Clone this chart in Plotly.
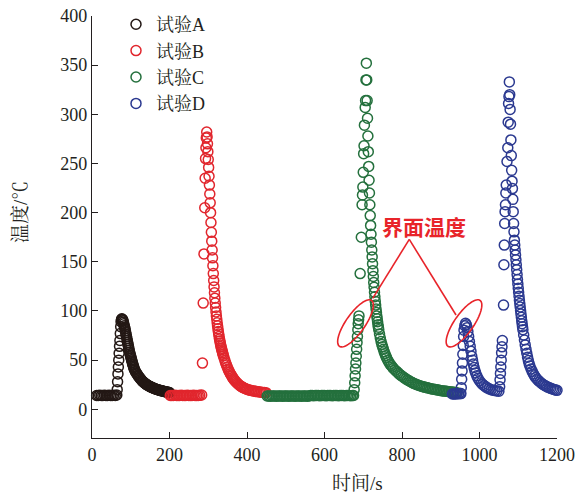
import math
import plotly.graph_objects as go

# ---------------- data ----------------
time_A = [12, 16, 20, 24, 28, 32, 36, 40, 44, 48, 52, 56, 60,
          64, 65, 66, 67, 68, 69, 70, 71, 72, 73, 74, 75, 76, 77,
          78, 79, 80, 81, 82, 83, 84, 85, 86, 87, 88, 89, 90, 91, 92, 93, 94, 95, 96, 97, 98, 99,
          100, 101, 102, 103, 104, 105, 106, 107, 108, 109, 110,
          112, 114, 116, 118, 120, 122, 124, 126, 128, 130, 132, 134, 136, 138, 140, 142, 144, 146,
          148, 150, 152, 154, 156, 158, 160, 162, 164, 166, 168, 170, 172, 174, 176, 178, 180, 182,
          184, 186, 188, 190, 192, 194, 196, 198, 200]
temp_A = [14, 14, 14.2, 14, 14, 14.2, 14, 14, 14.2, 14, 14, 14.2, 14,
          14.5, 20, 28, 36, 43, 50, 57, 64, 70, 77, 84, 89, 91, 92,
          91.5, 91, 90, 88.5, 87, 85, 83.5, 82, 80, 78, 76, 74, 72, 70, 68, 66, 64, 62, 60, 58, 56.5, 55,
          53.5, 52, 50.5, 49, 47.5, 46, 45, 43.5, 42.5, 41, 40,
          38.5, 37, 36, 34.5, 33.5, 32.5, 31.5, 30.5, 29.5, 28.5, 28, 27.3, 26.6, 26, 25.4, 24.9, 24.4, 23.9,
          23.5, 23.1, 22.7, 22.3, 22, 21.6, 21.3, 21, 20.7, 20.4, 20.1, 19.9, 19.6, 19.4, 19.2, 19, 18.8, 18.6,
          18.4, 18.2, 18, 17.8, 17.6, 17.5, 17.3, 17.1, 17]

time_B = [202, 206, 210, 214, 218, 222, 226, 230, 234, 238, 242, 246, 250, 254, 258, 262, 266, 270, 274, 278,
          283, 285, 287, 289, 291, 292, 293, 294, 295, 296,
          297, 298, 299, 300, 301, 302, 303, 304, 305, 306, 307, 308, 309, 310, 311, 312, 313, 314, 315, 316,
          317, 318, 319, 320, 321, 322, 323, 324, 325, 326, 327, 328, 329, 330, 331, 332, 333, 334, 335, 336,
          337, 338, 339,
          341, 343, 345, 347, 349, 351, 353, 355, 357, 359, 361, 363, 365, 367, 369, 371,
          374, 377, 380, 383, 386, 389, 392, 395, 398, 401,
          405, 409, 413, 417, 421, 425, 429, 433, 437, 441, 445, 449]
temp_B = [14, 14, 14, 14.2, 14, 14, 14, 14.2, 14, 14, 14, 14.2, 14, 14, 14, 14.2, 14, 14, 14, 14.2,
          14.5, 47, 108, 158, 205, 235, 255, 266, 276, 282,
          277, 270, 262, 254, 246, 237, 228, 219, 210, 200, 190, 180, 171, 162, 154, 146, 138, 131, 124.5, 118.5,
          113, 108, 103.5, 99, 95, 91.5, 88, 85, 82, 79, 76.5, 74, 71.5, 69.5, 67.5, 65.5, 63.5, 62, 60.5, 59,
          57.5, 56, 54.5,
          52, 49.5, 47, 45, 43, 41, 39.3, 37.7, 36.2, 34.8, 33.5, 32.2, 31, 30, 29, 28,
          26.8, 25.7, 24.7, 23.8, 23, 22.3, 21.7, 21.1, 20.6, 20.2,
          19.7, 19.3, 18.9, 18.6, 18.3, 18, 17.8, 17.6, 17.4, 17.2, 17, 16.9]

time_C = [452, 456, 460, 464, 468, 472, 476, 480, 484, 488, 492, 496, 500, 504, 508, 512, 516, 520, 524, 528,
          532, 536, 540, 544, 548, 552, 556, 560, 564, 568, 572, 576, 580, 584, 588, 592, 596, 600, 604, 608,
          612, 616, 620, 624, 628, 632, 636, 640, 644, 648, 652, 656, 660, 664, 668, 672,
          675, 676.5, 678, 679, 680, 681, 682, 683, 684, 685, 686, 687, 688, 689, 692, 695,
          697, 698, 699, 700, 701, 702, 703, 705, 706, 707,
          708, 709, 710, 711, 712, 713, 714, 715, 716, 717, 718, 719, 720, 721, 722, 723, 724, 725, 726, 727,
          728, 729, 730, 731, 732, 733, 734, 735, 736, 737, 738, 739, 740,
          742, 744, 746, 748, 750, 752, 754, 756, 758, 760, 763, 766, 769, 772, 775, 778, 782, 786, 790,
          794, 798, 802, 806, 810, 814, 818, 822, 826, 830,
          834, 838, 842, 846, 850, 854, 858, 862, 866, 870, 874, 878, 882, 886, 890, 894, 898, 902, 906, 910,
          914, 918, 922, 926, 930, 934, 938, 942]
temp_C = [13.5, 13.5, 13.3, 13.5, 13.5, 13.5, 13.3, 13.5, 13.5, 13.5, 13.3, 13.5, 13.5, 13.5, 13.3, 13.5,
          13.5, 13.5, 13.3, 13.5, 13.5, 13.5, 13.3, 13.5, 13.5, 13.5, 13.3, 13.5,
          14, 14, 13.8, 14, 14, 14, 13.8, 14, 14, 14, 13.8, 14, 14, 14, 13.8, 14,
          14, 14, 13.8, 14, 14, 14, 13.8, 14, 14, 14, 13.8, 14,
          14, 20, 27, 34, 41, 47, 54, 61, 68, 74, 81, 87, 91, 95, 138, 175,
          208, 218, 226, 241, 260, 268, 289, 307, 314, 335,
          352, 335, 314, 296, 278, 262, 247, 233, 220, 208, 197, 187, 178, 170, 162, 155, 148, 141, 135, 129,
          124, 119, 114.5, 110, 106, 102, 98.5, 95, 92, 89, 86, 83.5, 81,
          76.5, 72.5, 69, 66, 63.5, 61, 58.5, 56.5, 54.5, 52.5, 50, 48, 46, 44.5, 43, 41.5, 40, 38.5, 37,
          35.5, 34.3, 33.1, 32, 30.9, 29.9, 29, 28.1, 27.2, 26.4,
          25.7, 25.1, 24.5, 24, 23.5, 23, 22.6, 22.2, 21.8, 21.4, 21, 20.7, 20.4, 20.1, 19.8, 19.5, 19.2, 18.9,
          18.7, 18.5, 18.3, 18.1, 17.9, 17.7, 17.5, 17.3, 17.1, 16.9]

time_D = [930, 934, 938, 942, 946, 950,
          952, 953, 954, 955, 956, 957, 958, 959, 960, 962, 964,
          966, 968, 970, 972, 974, 976, 978, 980, 982, 984, 986, 988, 990, 993, 996,
          1000, 1004, 1008, 1012, 1016, 1020, 1025, 1030, 1035, 1040, 1045, 1050,
          1052, 1053, 1054, 1055, 1056, 1057, 1058, 1059,
          1062, 1063, 1064, 1065, 1066, 1067, 1068, 1069, 1071, 1073, 1074, 1075, 1076, 1077,
          1078, 1079, 1080, 1081, 1082, 1083, 1084, 1085, 1086, 1087, 1088, 1089, 1090, 1091, 1092, 1093,
          1094, 1095, 1096, 1097, 1098, 1099, 1100, 1101, 1102, 1103, 1104, 1105, 1106, 1107, 1108, 1109,
          1110, 1111, 1112,
          1114, 1116, 1118, 1120, 1122, 1124, 1126, 1128, 1130, 1133, 1136, 1139, 1142, 1145, 1148, 1152,
          1156, 1160,
          1164, 1168, 1172, 1176, 1180, 1184, 1188, 1192, 1196, 1200, 1204, 1208, 1212, 1216, 1220, 1224,
          1228, 1232, 1236, 1240]
temp_D = [15.5, 15.5, 15.5, 15.8, 15.8, 16,
          16, 22, 30.5, 39, 47, 56, 65, 74, 80.5, 85, 87.5,
          86, 83, 79, 74, 69, 64, 59, 54, 50, 46, 42.5, 39.5, 37, 34, 31.5,
          29, 27, 25.3, 24, 22.8, 21.8, 20.8, 20, 19.4, 19, 18.6, 18.4,
          23, 30, 36.5, 43, 50, 57.5, 63.5, 70,
          106, 147, 167, 189, 201, 208, 220, 228, 252, 266, 292, 311, 318, 333,
          320, 305, 290, 274, 258, 243, 232, 224.5, 213.5, 201, 189, 180.5, 172, 167, 162, 157,
          152, 147, 142, 137, 132, 127.5, 123, 119, 115, 111, 107.5, 104, 100.5, 97, 93.5, 90,
          87, 84, 81,
          75.5, 70.5, 65.5, 61, 57, 53, 49.5, 46.5, 44, 41, 38.5, 36, 34, 32.3, 30.8, 29.2,
          27.8, 26.5,
          25.3, 24.3, 23.4, 22.6, 21.9, 21.3, 20.7, 20.2, 19.7, 19.3, 18.9, 18.6, 18.3, 18, 17.7, 17.5,
          17.3, 17.1, 16.9, 16.7]

series_names = ["试验A", "试验B", "试验C", "试验D"]
series_colors = ["#231815", "#e1262d", "#24703d", "#2b3990"]

x_ticks = [0, 200, 400, 600, 800, 1000, 1200]
y_ticks = [0, 50, 100, 150, 200, 250, 300, 350, 400]

x_title = "时间/s"
y_title = "温度/℃"
note_text = "界面温度"

# ---------------- figure ----------------
FONT = "Times New Roman, Liberation Serif, Noto Serif CJK SC, Noto Sans CJK SC, serif"
AXIS_COLOR = "#231f20"
RED = "#e8242a"

W, H = 582, 497
ML, MR, MT, MB = 92, 25, 16, 59
PW, PH = W - ML - MR, H - MT - MB
X_RANGE = [0, 1200]
Y_RANGE = [-29.2, 400]
sx = PW / (X_RANGE[1] - X_RANGE[0])
sy = PH / (Y_RANGE[1] - Y_RANGE[0])

fig = go.Figure()
for name, color, t, v in zip(series_names, series_colors,
                             [time_A, time_B, time_C, time_D],
                             [temp_A, temp_B, temp_C, temp_D]):
    fig.add_trace(go.Scatter(
        x=t, y=v, mode="markers", name=name, cliponaxis=False,
        marker=dict(symbol="circle-open", size=10, color=color, line=dict(width=1.5)),
    ))


def ellipse_path(cx, cy, a_px, b_px, ang_deg, n=72):
    phi = math.radians(ang_deg)
    pts = []
    for k in range(n):
        th = 2 * math.pi * k / n
        dx = a_px * math.cos(th) * math.cos(phi) - b_px * math.sin(th) * math.sin(phi)
        dy = a_px * math.cos(th) * math.sin(phi) + b_px * math.sin(th) * math.cos(phi)
        pts.append((cx + dx / sx, cy + dy / sy))
    return "M " + " L ".join(f"{px:.2f},{py:.2f}" for px, py in pts) + " Z"


shapes = []
for (cx, cy) in [(680, 87.4), (960, 87.4)]:
    shapes.append(dict(type="path", xref="x", yref="y", path=ellipse_path(cx, cy, 28, 9.5, 55),
                       line=dict(color=RED, width=1.6)))
apex = (818.8, 172.8)
for end in [(724.4, 112.8), (939.4, 95.9)]:
    shapes.append(dict(type="line", xref="x", yref="y", x0=apex[0], y0=apex[1], x1=end[0], y1=end[1],
                       line=dict(color=RED, width=1.6)))

annotations = [
    dict(text=f"<b>{note_text}</b>", x=857.3, y=186.5, xref="x", yref="y", showarrow=False,
         font=dict(size=21, color=RED, family="Noto Sans CJK SC"), xanchor="center", yanchor="middle"),
    dict(text=x_title, x=(357 - ML) / PW, y=(H - MB - 483) / PH,
         xref="paper", yref="paper", showarrow=False, xanchor="center", yanchor="middle",
         font=dict(size=19)),
    dict(text=y_title, x=(20 - ML) / PW, y=(H - MB - 212) / PH,
         xref="paper", yref="paper", showarrow=False, xanchor="center", yanchor="middle",
         textangle=-90, font=dict(size=19)),
]

axis_common = dict(showline=True, linecolor=AXIS_COLOR, linewidth=1.3, ticks="inside", ticklen=6,
                   tickwidth=1.3, tickcolor=AXIS_COLOR, showgrid=False, zeroline=False, mirror=False,
                   automargin=False, tickfont=dict(size=18, color=AXIS_COLOR, family=FONT))

fig.update_layout(
    width=W, height=H,
    margin=dict(l=ML, r=MR, t=MT, b=MB, autoexpand=False),
    paper_bgcolor="white", plot_bgcolor="white",
    font=dict(family=FONT, size=18, color=AXIS_COLOR),
    xaxis=dict(range=X_RANGE, tickvals=x_ticks, ticktext=[str(v) for v in x_ticks], **axis_common),
    yaxis=dict(range=Y_RANGE, tickvals=y_ticks, ticktext=[str(v) for v in y_ticks], **axis_common),
    legend=dict(x=(116 - ML) / PW, y=1.0 + 10 / PH, xanchor="left", yanchor="top",
                bgcolor="rgba(0,0,0,0)", font=dict(size=18, family=FONT, color=AXIS_COLOR)),
    shapes=shapes,
    annotations=annotations,
)

fig.write_html("out.html", config={"displayModeBar": False},
               post_script="document.body.style.margin='0';")
